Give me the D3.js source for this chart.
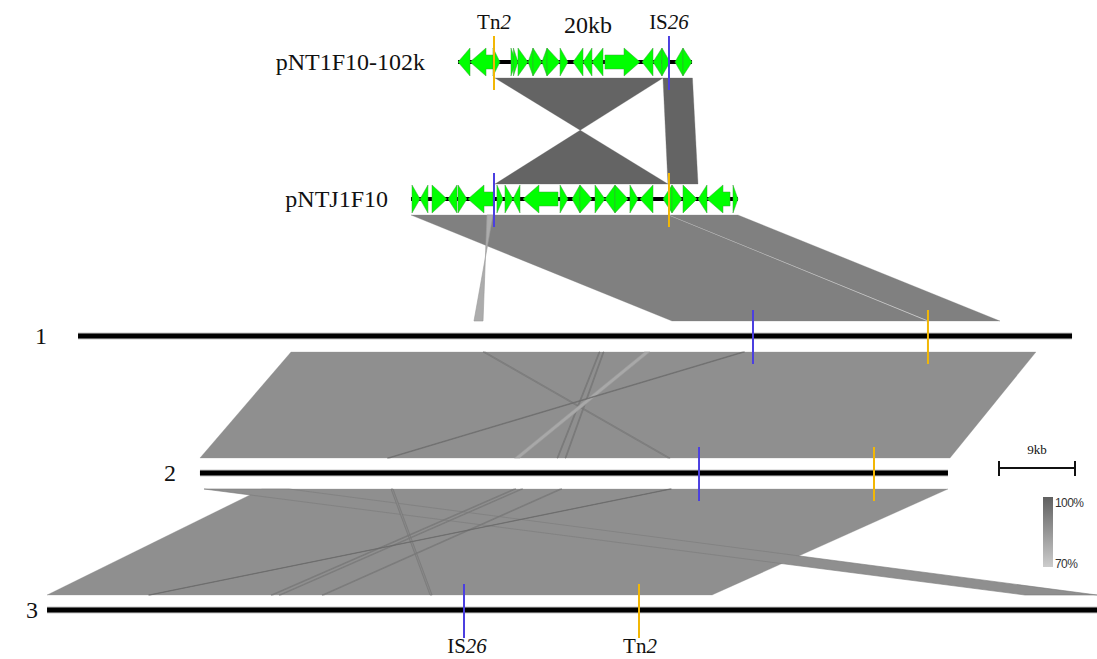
<!DOCTYPE html>
<html>
<head>
<meta charset="utf-8">
<script src="https://cdn.jsdelivr.net/npm/d3@7"></script>
<style>
  html, body { margin: 0; padding: 0; background: #fff; }
  svg { display: block; }
</style>
</head>
<body>
<svg id="chart" width="1097" height="659"></svg>
<script>
// ---------------- DATA (positions in kb along a common axis) ----------------
const rows = ["pNT1F10-102k", "pNTJ1F10", "1", "2", "3"];
const trackStart = [54.24, 48.67, 9.24, 23.68, 5.57];
const trackEnd   = [81.95, 87.39, 126.95, 112.26, 129.91];
const is26Pos = [79.22, 58.50, 89.17, 82.78, 54.95];
const tn2Pos  = [58.50, 79.22, 109.89, 103.50, 75.67];

// genes: [start, end, strand]
const genesPNT1F10 = [
  [54.24, 55.66, -1], [55.66, 58.38, -1], [58.38, 59.21, 1], [60.51, 61.10, 1],
  [60.80, 61.34, 1], [61.34, 62.53, 1], [62.53, 63.12, -1], [63.12, 64.18, 1],
  [64.18, 64.78, -1], [64.78, 66.32, 1], [66.32, 67.26, 1], [67.86, 69.04, -1],
  [69.04, 70.10, -1], [70.10, 71.41, -1], [71.64, 75.79, 1], [76.03, 77.33, -1],
  [77.33, 78.39, -1], [78.39, 79.34, 1], [79.93, 80.88, -1], [80.88, 81.95, 1]
];
const genesPNTJ1F10 = [
  [48.79, 49.74, 1], [49.74, 50.68, -1], [51.16, 52.93, 1], [53.05, 54.12, -1],
  [54.24, 55.30, 1], [55.42, 58.38, -1], [58.85, 59.57, 1], [59.80, 60.75, 1],
  [60.75, 61.58, -1], [61.93, 66.08, -1], [66.32, 67.26, 1], [67.74, 68.68, -1],
  [68.68, 70.10, 1], [70.46, 71.64, 1], [71.64, 72.83, -1], [72.83, 74.37, 1],
  [74.60, 75.55, 1], [75.79, 77.33, -1], [78.51, 79.58, -1], [79.58, 80.76, 1],
  [80.88, 82.54, 1], [82.66, 83.72, -1], [83.72, 86.45, -1], [86.80, 87.39, 1]
];

// comparisons: [upperRow, top1, top2, bottom1, bottom2, identity%]  (top1 maps to bottom1)
const blocks = [
  [0, 58.62, 78.51, 79.10, 58.62, 99],
  [0, 78.51, 82.00, 79.10, 82.66, 99],
  [1, 48.67, 79.10, 79.58, 109.78, 91],
  [1, 79.22, 87.39, 110.01, 118.42, 91],
  [2, 34.46, 122.68, 23.68, 112.50, 87],
  [3, 31.03, 112.26, 5.57, 84.32, 87]
];
const thinHits = [
  [1, 57.67, 58.38, 57.20, 56.13, 79],
  [2, 57.20, 57.45, 79.10, 79.35, 89],
  [2, 70.93, 71.05, 65.96, 66.08, 90],
  [2, 71.41, 71.53, 66.91, 67.03, 90],
  [2, 76.34, 76.94, 60.95, 61.55, 80],
  [2, 87.92, 88.17, 45.88, 46.13, 92],
  [3, 24.16, 34.22, 121.38, 129.91, 87],
  [3, 46.30, 46.55, 50.92, 51.17, 89],
  [3, 60.87, 61.10, 32.09, 32.32, 89],
  [3, 61.70, 61.90, 33.05, 33.25, 88],
  [3, 66.32, 66.55, 38.13, 38.36, 89],
  [3, 79.30, 79.50, 17.60, 17.80, 93]
];

const scaleBarKb = 9;
const scaleBarStart = 118.30;
const identityRange = [70, 100];
const legendLabels = ["100%", "70%"];

// ---------------- LAYOUT ----------------
const svg = d3.select("#chart");
const x = d3.scaleLinear().domain([0, 130]).range([0, 130 * 76 / 9]);
const y = d3.scalePoint().domain(rows).range([62, 610]);
const color = d3.scaleLinear().domain(identityRange).range(["#cccccc", "#606060"]);
const serif = "'Liberation Serif', 'Times New Roman', serif";
const sans = "'Liberation Sans', Arial, sans-serif";

const cmpTop = i => y(rows[i]) + 16;
const cmpBot = i => y(rows[i + 1]) - 15;
const polyPts = d => [
  [x(d[1]), cmpTop(d[0])], [x(d[2]), cmpTop(d[0])],
  [x(d[4]), cmpBot(d[0])], [x(d[3]), cmpBot(d[0])]
].map(p => p.join(",")).join(" ");

// comparison blocks
svg.append("g").selectAll("polygon").data(blocks).join("polygon")
  .attr("points", polyPts)
  .attr("fill", d => color(d[5]))
  .attr("stroke", d => color(d[5]))
  .attr("stroke-width", 0.3);

svg.append("g").selectAll("polygon").data(thinHits).join("polygon")
  .attr("points", polyPts)
  .attr("fill", d => color(d[5]))
  .attr("stroke", d => d[5] < 85 ? "#9a9a9a" : d3.color(color(d[5])).darker(0.45))
  .attr("stroke-width", 0.6);

// track lines
const tracks = svg.append("g");
rows.forEach((r, i) => {
  const yy = y(r);
  if (i >= 2) {
    tracks.append("line")
      .attr("x1", x(trackStart[i])).attr("x2", x(trackEnd[i]))
      .attr("y1", yy).attr("y2", yy)
      .attr("stroke", "#c8c8c8").attr("stroke-width", 7);
  }
  tracks.append("line")
    .attr("x1", x(trackStart[i])).attr("x2", x(trackEnd[i]))
    .attr("y1", yy).attr("y2", yy)
    .attr("stroke", "#000").attr("stroke-width", i >= 2 ? 5 : 4);
});

// genes
function arrowPath(g, yy) {
  const s = x(g[0]), e = x(g[1]);
  const len = e - s;
  const H = 14, h = 7;
  const head = Math.min(len, 16);
  if (g[2] > 0) {
    const hb = e - head;
    if (head >= len) return `M${s},${yy - H}L${e},${yy}L${s},${yy + H}Z`;
    return `M${s},${yy - h}L${hb},${yy - h}L${hb},${yy - H}L${e},${yy}L${hb},${yy + H}L${hb},${yy + h}L${s},${yy + h}Z`;
  } else {
    const hb = s + head;
    if (head >= len) return `M${e},${yy - H}L${s},${yy}L${e},${yy + H}Z`;
    return `M${e},${yy - h}L${hb},${yy - h}L${hb},${yy - H}L${s},${yy}L${hb},${yy + H}L${hb},${yy + h}L${e},${yy + h}Z`;
  }
}
[[genesPNT1F10, 0], [genesPNTJ1F10, 1]].forEach(([genes, ri]) => {
  svg.append("g").selectAll("path").data(genes).join("path")
    .attr("d", g => arrowPath(g, y(rows[ri])))
    .attr("fill", "#00ff00")
    .attr("stroke", "#3c9a3c")
    .attr("stroke-width", 0.6)
    .attr("stroke-opacity", 0.8);
});

// mobile element markers
const markers = svg.append("g");
rows.forEach((r, i) => {
  const yy = y(r);
  markers.append("line")
    .attr("x1", x(tn2Pos[i])).attr("x2", x(tn2Pos[i]))
    .attr("y1", yy - 26).attr("y2", yy + 28)
    .attr("stroke", "#f2b705").attr("stroke-width", 2);
  markers.append("line")
    .attr("x1", x(is26Pos[i])).attr("x2", x(is26Pos[i]))
    .attr("y1", yy - 26).attr("y2", yy + 28)
    .attr("stroke", "#4b3fe0").attr("stroke-width", 2);
});

// track labels
const labelGap = [33, 23, 31, 24, 9];
rows.forEach((r, i) => {
  svg.append("text")
    .attr("x", x(trackStart[i]) - labelGap[i])
    .attr("y", y(r) + 8)
    .attr("text-anchor", "end")
    .attr("font-family", serif)
    .attr("font-size", 24)
    .attr("fill", "#111")
    .text(r);
});

// element labels
function elemLabel(px, py, main, ital) {
  const t = svg.append("text")
    .attr("x", px).attr("y", py)
    .attr("text-anchor", "middle")
    .attr("font-family", serif)
    .attr("font-size", 21)
    .attr("fill", "#111");
  t.append("tspan").text(main);
  t.append("tspan").attr("font-style", "italic").text(ital);
}
elemLabel(x(tn2Pos[0]), 29, "Tn", "2");
elemLabel(x(is26Pos[0]), 29, "IS", "26");
elemLabel(x(is26Pos[4]) + 3, 653, "IS", "26");
elemLabel(x(tn2Pos[4]) + 1, 653, "Tn", "2");

svg.append("text")
  .attr("x", 588).attr("y", 33)
  .attr("text-anchor", "middle")
  .attr("font-family", serif).attr("font-size", 24)
  .attr("fill", "#111")
  .text("20kb");

// scale bar
const sb = svg.append("g");
const sx1 = x(scaleBarStart), sx2 = x(scaleBarStart + scaleBarKb);
sb.append("line").attr("x1", sx1).attr("x2", sx2).attr("y1", 468).attr("y2", 468)
  .attr("stroke", "#111").attr("stroke-width", 2);
[sx1, sx2].forEach(v => sb.append("line").attr("x1", v).attr("x2", v)
  .attr("y1", 461).attr("y2", 476).attr("stroke", "#111").attr("stroke-width", 2));
sb.append("text").attr("x", (sx1 + sx2) / 2).attr("y", 454)
  .attr("text-anchor", "middle").attr("font-family", serif).attr("font-size", 13)
  .attr("fill", "#111").text(scaleBarKb + "kb");

// identity legend
const defs = svg.append("defs");
const grad = defs.append("linearGradient").attr("id", "idgrad")
  .attr("x1", 0).attr("x2", 0).attr("y1", 0).attr("y2", 1);
grad.append("stop").attr("offset", "0%").attr("stop-color", color(identityRange[1]));
grad.append("stop").attr("offset", "100%").attr("stop-color", color(identityRange[0]));
const ly = d3.scaleLinear().domain([identityRange[1], identityRange[0]]).range([497, 567]);
svg.append("rect").attr("x", 1043).attr("y", ly(identityRange[1]))
  .attr("width", 10).attr("height", ly(identityRange[0]) - ly(identityRange[1]))
  .attr("fill", "url(#idgrad)");
svg.append("text").attr("x", 1055).attr("y", ly(identityRange[1]) + 10)
  .attr("font-family", sans).attr("font-size", 12).attr("fill", "#333")
  .attr("letter-spacing", -0.6).text(legendLabels[0]);
svg.append("text").attr("x", 1055).attr("y", ly(identityRange[0]) + 1)
  .attr("font-family", sans).attr("font-size", 12).attr("fill", "#333")
  .attr("letter-spacing", -0.6).text(legendLabels[1]);
</script>
</body>
</html>
